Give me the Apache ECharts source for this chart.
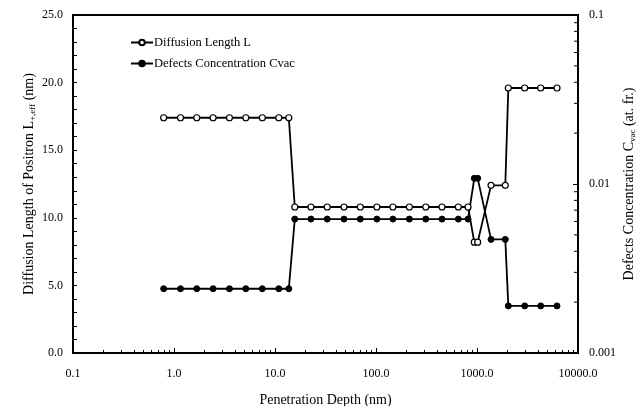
<!DOCTYPE html>
<html>
<head>
<meta charset="utf-8">
<script src="https://cdn.jsdelivr.net/npm/echarts@6/dist/echarts.min.js"></script>
<style>html,body{margin:0;padding:0;background:#fff}#c{width:636px;height:406px}</style>
</head>
<body>
<div id="c"></div>
<script>
const depth = [0.79, 1.16, 1.68, 2.44, 3.54, 5.14, 7.49, 10.9, 13.7,
  15.7, 22.7, 32.9, 48.2, 69.9, 102, 147, 214, 311, 450, 653, 815,
  940, 1016, 1377, 1906, 2042, 2967, 4274, 6194];
const diffusionL = [17.4, 17.4, 17.4, 17.4, 17.4, 17.4, 17.4, 17.4, 17.4,
  10.8, 10.8, 10.8, 10.8, 10.8, 10.8, 10.8, 10.8, 10.8, 10.8, 10.8, 10.8,
  8.2, 8.2, 12.4, 12.4, 19.6, 19.6, 19.6, 19.6];
const cvac = [0.0024, 0.0024, 0.0024, 0.0024, 0.0024, 0.0024, 0.0024, 0.0024, 0.0024,
  0.0062, 0.0062, 0.0062, 0.0062, 0.0062, 0.0062, 0.0062, 0.0062, 0.0062, 0.0062, 0.0062, 0.0062,
  0.0108, 0.0108, 0.0047, 0.0047, 0.0019, 0.0019, 0.0019, 0.0019];
const xTickValues = [0.1, 1, 10, 100, 1000, 10000];
const xTickLabels = ['0.1', '1.0', '10.0', '100.0', '1000.0', '10000.0'];
const leftTickValues = [0, 5, 10, 15, 20, 25];
const leftTickLabels = ['0.0', '5.0', '10.0', '15.0', '20.0', '25.0'];
const rightTickValues = [0.001, 0.01, 0.1];
const rightTickLabels = ['0.001', '0.01', '0.1'];
const rightMinorTicks = [0.002, 0.003, 0.004, 0.005, 0.006, 0.007, 0.008, 0.009,
  0.02, 0.03, 0.04, 0.05, 0.06, 0.07, 0.08, 0.09];

function lookup(vals, labels, v) {
  for (let i = 0; i < vals.length; i++) {
    if (Math.abs(vals[i] - v) <= Math.abs(vals[i]) * 1e-6 + 1e-12) return labels[i];
  }
  return '';
}

const FONT = 'Liberation Serif';
const chart = echarts.init(document.getElementById('c'), null, {renderer: 'canvas'});
chart.setOption({
  animation: false,
  backgroundColor: '#fff',
  textStyle: {fontFamily: FONT, color: '#000'},
  grid: {left: 73, right: 58, top: 15, bottom: 53, show: true, borderColor: '#000', borderWidth: 2,
    containLabel: false, outerBoundsMode: 'none'},
  legend: {
    left: 130, top: 36, padding: 0, orient: 'vertical', itemGap: 8, itemWidth: 22, itemHeight: 7,
    textStyle: {fontFamily: FONT, fontSize: 12.5, color: '#000', padding: [0, 0, 0, -4]},
    data: ['Diffusion Length L', 'Defects Concentration Cvac']
  },
  xAxis: {
    type: 'log', logBase: 10, min: 0.1, max: 10000,
    name: 'Penetration Depth (nm)', nameLocation: 'middle', nameGap: 40, nameMoveOverlap: false,
    nameTextStyle: {fontFamily: FONT, fontSize: 14, color: '#000'},
    axisLine: {lineStyle: {color: '#000', width: 2}},
    axisTick: {inside: true, length: 5, lineStyle: {color: '#000', width: 1}},
    minorTick: {show: true, splitNumber: 9, length: 3, lineStyle: {color: '#000', width: 1}},
    axisLabel: {fontFamily: FONT, fontSize: 12, color: '#000', margin: 15,
      formatter: v => lookup(xTickValues, xTickLabels, v)},
    splitLine: {show: false}
  },
  yAxis: [{
    type: 'value', min: 0, max: 25, interval: 5, position: 'left',
    name: 'Diffusion Length of Positron L{sub|+,eff} (nm)', nameLocation: 'middle', nameGap: 36, nameRotate: 90,
    nameMoveOverlap: false,
    nameTextStyle: {fontFamily: FONT, fontSize: 14, color: '#000',
      rich: {sub: {fontFamily: FONT, fontSize: 9, color: '#000', padding: [6, 0, 0, 0]}}},
    axisLine: {show: true, lineStyle: {color: '#000', width: 2}},
    axisTick: {inside: true, length: 4, lineStyle: {color: '#000', width: 1}},
    minorTick: {show: true, splitNumber: 5, length: 4, lineStyle: {color: '#000', width: 1}},
    axisLabel: {fontFamily: FONT, fontSize: 12, color: '#000', margin: 10,
      formatter: v => lookup(leftTickValues, leftTickLabels, v)},
    splitLine: {show: false}
  }, {
    type: 'log', logBase: 10, min: 0.001, max: 0.1, position: 'right',
    name: 'Defects Concentration C{sub|vac} (at. fr.)', nameLocation: 'middle', nameGap: 44, nameRotate: 90,
    nameMoveOverlap: false,
    nameTextStyle: {fontFamily: FONT, fontSize: 14, color: '#000',
      rich: {sub: {fontFamily: FONT, fontSize: 9, color: '#000', padding: [6, 0, 0, 0]}}},
    axisLine: {show: true, lineStyle: {color: '#000', width: 2}},
    axisTick: {inside: true, length: 5, lineStyle: {color: '#000', width: 1}},
    minorTick: {show: false},
    axisLabel: {fontFamily: FONT, fontSize: 12, color: '#000', margin: 11,
      formatter: v => lookup(rightTickValues, rightTickLabels, v)},
    splitLine: {show: false}
  }],
  series: [{
    name: 'Diffusion Length L', type: 'line', yAxisIndex: 0,
    data: depth.map((d, i) => [d, diffusionL[i]]),
    symbol: 'circle', symbolSize: 6, showAllSymbol: true,
    lineStyle: {color: '#000', width: 1.8},
    itemStyle: {color: '#fff', borderColor: '#000', borderWidth: 1.2},
    z: 3
  }, {
    name: 'Defects Concentration Cvac', type: 'line', yAxisIndex: 1,
    data: depth.map((d, i) => [d, cvac[i]]),
    symbol: 'circle', symbolSize: 6, showAllSymbol: true,
    lineStyle: {color: '#000', width: 1.8},
    itemStyle: {color: '#000', borderColor: '#000', borderWidth: 1},
    z: 3
  }, {
    name: 'rightMinor', type: 'custom', yAxisIndex: 1, silent: true,
    data: rightMinorTicks.map(v => [10000, v]),
    renderItem: function (params, api) {
      const p = api.coord([api.value(0), api.value(1)]);
      return {type: 'line', shape: {x1: p[0] - 4, y1: p[1], x2: p[0], y2: p[1]},
        style: {stroke: '#000', lineWidth: 1}};
    },
    clip: false, z: 4
  }]
});
</script>
</body>
</html>
